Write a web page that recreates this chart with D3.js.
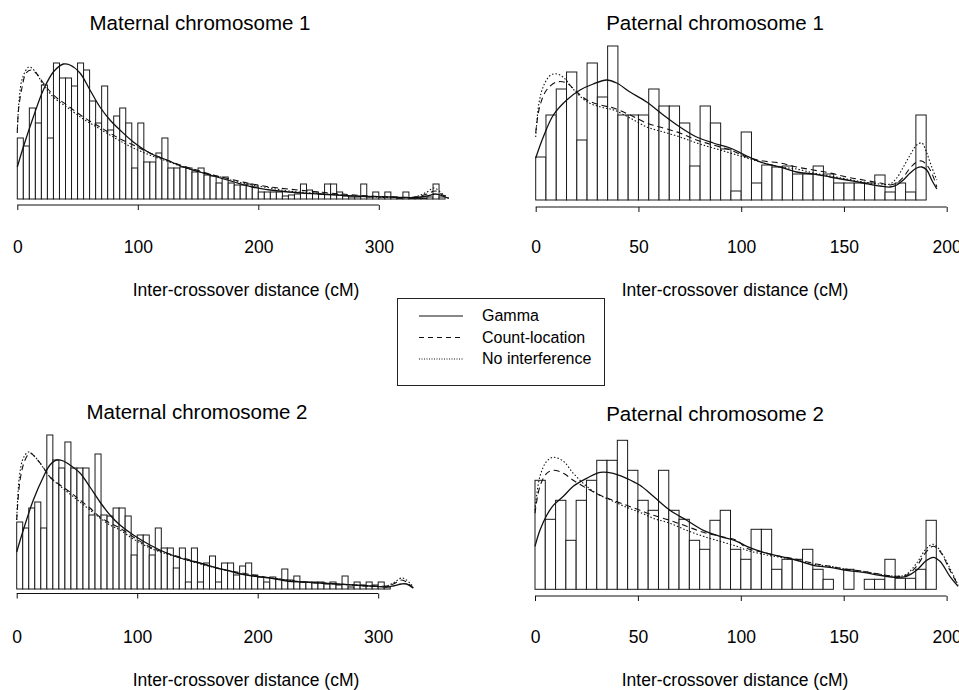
<!DOCTYPE html>
<html><head><meta charset="utf-8">
<script src="https://cdn.jsdelivr.net/npm/d3@7"></script>
<style>body{margin:0;background:#fff} svg{display:block}</style>
</head><body><svg id="c" width="959" height="690"></svg>
<script>
// ---------------- DATA ----------------
const binWidth = 5; // cM
const seriesNames = ["Gamma", "Count-location", "No interference"];

// histogram bar heights (frequency, arbitrary units), bins of 5 cM starting at 0
const mat1Bins = [61,53,91,76,114,61,136,121,121,113,136,129,98,76,113,69,83,91,76,31,76,37,37,46,61,31,31,32,31,27,31,24,23,16,
  22,16,14,14,15,12,7,7,7,7,3,4,5,15,9,7,5,15,15,7,3,2,2,15,2,7,2,7,2,1,7,1,1,1,2,15,2];
const pat1Bins = [43,85,111,128,60,137,103,154,85,85,85,111,94,94,77,34,94,77,51,9,68,17,35,33,34,26,26,34,26,17,17,17,17,25,8,17,8,85];
const mat2Bins = [67,61,81,87,61,154,129,121,147,121,121,121,74,135,74,73,81,81,73,34,54,54,34,61,41,41,21,41,7,41,7,26,33,7,
  26,26,14,23,26,14,12,7,12,10,20,9,13,7,7,7,7,5,7,4,13,2,7,4,7,4,7,2];
const pat2Bins = [109,70,89,49,89,109,129,129,149,119,89,79,119,79,70,49,40,69,79,40,30,60,60,20,30,30,40,20,10,0,20,0,10,10,30,11,11,20,69];

// fitted densities: [cM, frequency]
const mat1Gamma = [[0,32],[5,52],[13.3,82],[21.6,109],[29.9,127],[38.2,135],[43.7,134],[52,126],[60.3,109],[68.6,92],[76.9,79],[85.2,69],[96.3,57],[110,46],[124,39],[137.8,32],[151.6,27],[165.5,22],[180,17],[195,12],[210,9],[225,7],[250,5],[280,3],[310,2],[330,1.5],[340,3],[347,5],[353,3],[358,0.5]];
const mat1Count = [[0,67],[1,89],[4,112],[7.3,126],[11.4,129],[15.5,126],[21.6,116],[29.9,104],[41,94],[54.8,82],[68.6,72],[82.4,62],[96.3,54],[110,46],[124,39],[137.8,33],[151.6,28],[165.5,23],[180,19],[195,15],[210,12],[225,10],[250,7],[280,4],[310,2],[330,2],[340,5],[347,8],[353,4],[358,1]];
const mat1NoInt = [[0,66],[1.5,99],[4.3,121],[9.7,132],[15.2,127],[21.6,114],[29.9,102],[41,92],[54.8,80],[68.6,70],[82.4,60],[96.3,51],[110,44],[124,38],[137.8,32],[151.6,27],[165.5,23],[180,18],[195,14],[210,11],[225,8],[250,5.5],[280,3],[310,1.5],[330,2],[340,7],[346,11],[353,5],[358,1]];

const pat1Gamma = [[0,42],[3.7,63],[8.6,85],[15.1,100],[21.6,110],[28,116],[34.5,120],[39.4,117],[45.9,108],[54,98],[62.1,85],[70.2,73],[78.3,63],[86.4,57],[94.6,52],[102.7,44],[110.8,37],[118.9,33],[127,28],[135.1,26],[143.2,23],[151.3,20],[159.4,17],[167.6,14],[172.4,13],[175.7,15],[178.9,20],[182.2,27],[185.4,32],[187.9,33],[190.3,30],[192.7,20],[195.2,11]];
const pat1Count = [[0,67],[1.9,93],[5.3,110],[10.2,118],[15.1,117],[20,108],[24.9,100],[31.4,95],[37.8,92],[45.9,85],[54,77],[62.1,72],[70.2,67],[78.3,60],[86.4,55],[94.6,50],[102.7,43],[110.8,39],[118.9,37],[127,33],[135.1,30],[143.2,27],[151.3,23],[159.4,20],[167.6,17],[172.4,15],[175.7,17],[178.9,23],[182.2,32],[185.4,38],[187.9,39],[190.3,35],[192.7,27],[195.2,13]];
const pat1NoInt = [[0,63],[1.6,97],[4,115],[7.3,125],[10.5,126],[13.8,122],[18.6,110],[25.1,98],[31.6,93],[38,90],[45.9,82],[54,73],[62.1,68],[70.2,63],[78.3,57],[86.4,52],[94.6,47],[102.7,42],[110.8,37],[118.9,33],[127,31],[135.1,27],[143.2,24],[151.3,21],[159.4,18],[167.6,16],[172.4,16],[175.7,22],[178.9,33],[182.2,45],[185.4,55],[187.9,57],[190.3,47],[192.7,33],[195.2,20]];

const mat2Gamma = [[0,37],[5.5,59],[13.8,89],[22.1,112],[27.6,124],[33.2,129],[38.7,128],[44.2,124],[52.5,116],[60.8,102],[69.1,87],[77.4,74],[85.7,64],[96.8,54],[110.6,44],[124.4,36],[138.3,30],[152.1,26],[165.9,21],[177,18],[182.5,16],[196.3,13],[210.2,11],[224,8],[237.8,7],[251.6,6],[265.5,5],[279.3,4],[293.1,3],[306.9,2],[312.5,3],[319.4,5],[323.5,5],[329.1,1]];
const mat2Count = [[0,69],[2.8,109],[6.9,129],[11,136],[15.2,132],[20.7,124],[27.6,112],[35.9,104],[44.2,97],[52.5,89],[60.8,81],[69.1,72],[77.4,66],[85.7,61],[96.8,52],[110.6,42],[124.4,36],[138.3,31],[152.1,26],[165.9,21],[177,18],[182.5,17],[196.3,14],[210.2,11],[224,9],[237.8,7],[251.6,6],[265.5,5],[279.3,4],[293.1,3],[306.9,3],[312.5,5],[319.4,9],[323.5,7],[329.1,1]];
const mat2NoInt = [[0,69],[2.2,112],[5.5,131],[9.7,137],[13.8,134],[19.3,126],[27.6,112],[35.9,103],[44.2,95],[52.5,87],[60.8,79],[69.1,71],[77.4,64],[85.7,59],[96.8,50],[110.6,41],[124.4,35],[138.3,30],[152.1,25],[165.9,21],[177,18],[182.5,16],[196.3,13],[210.2,11],[224,9],[237.8,7],[251.6,6],[265.5,5],[279.3,4],[293.1,3],[306.9,3],[312.5,6],[319.4,11],[323.5,9],[329.1,2]];

const pat2Gamma = [[0,43],[2.4,59],[5.7,74],[8.9,84],[13.8,93],[18.6,103],[25.1,111],[31.6,117],[38,116],[44.5,111],[51,104],[57.5,93],[65.6,79],[73.7,69],[81.8,59],[89.9,53],[98,48],[102.9,43],[111,37],[119,33],[127.1,29],[135.2,24],[143.3,22],[151.4,19],[159.5,17],[167.6,14],[175.7,12],[180.5,13],[185.4,19],[190.3,29],[193.5,32],[196.8,28],[201.6,13],[205.6,3]];
const pat2Count = [[0,76],[2.4,103],[5.7,116],[8.9,119],[13.8,116],[18.6,109],[25.1,101],[31.6,94],[38,89],[44.5,84],[51,79],[57.5,74],[65.6,69],[73.7,63],[81.8,57],[89.9,53],[98,49],[102.9,41],[111,37],[119,33],[127.1,30],[135.2,26],[143.3,23],[151.4,20],[159.5,18],[167.6,15],[175.7,13],[180.5,14],[185.4,23],[190.3,38],[193.5,43],[196.8,38],[201.6,19],[205.6,4]];
const pat2NoInt = [[0,79],[2.4,113],[5.7,128],[8.9,132],[13.8,128],[18.6,116],[25.1,103],[31.6,94],[38,88],[44.5,82],[51,77],[57.5,71],[65.6,66],[73.7,59],[81.8,53],[89.9,48],[98,43],[102.9,39],[111,35],[119,32],[127.1,29],[135.2,25],[143.3,23],[151.4,20],[159.5,18],[167.6,15],[175.7,13],[180.5,15],[185.4,26],[190.3,41],[193.5,45],[196.8,39],[201.6,21],[205.6,4]];

const titles = ["Maternal chromosome 1", "Paternal chromosome 1", "Maternal chromosome 2", "Paternal chromosome 2"];
const ticks300 = [0, 100, 200, 300];
const ticks200 = [0, 50, 100, 150, 200];
const xLabel = "Inter-crossover distance (cM)";

// ---------------- LAYOUT ----------------
const panels = [
  {title: titles[0], bins: mat1Bins, curves: [mat1Gamma, mat1Count, mat1NoInt], ticks: ticks300,
   xr: [17.3, 378.8], base: 199, axisY: 205, titleX: 200, titleY: 30, labY: 253, xlabX: 246, xlabY: 296},
  {title: titles[1], bins: pat1Bins, curves: [pat1Gamma, pat1Count, pat1NoInt], ticks: ticks200,
   xr: [535.7, 946.7], base: 200, axisY: 207, titleX: 715, titleY: 30, labY: 253, xlabX: 735, xlabY: 296},
  {title: titles[2], bins: mat2Bins, curves: [mat2Gamma, mat2Count, mat2NoInt], ticks: ticks300,
   xr: [16.7, 378.2], base: 589, axisY: 593.5, titleX: 197, titleY: 419, labY: 643, xlabX: 246, xlabY: 686},
  {title: titles[3], bins: pat2Bins, curves: [pat2Gamma, pat2Count, pat2NoInt], ticks: ticks200,
   xr: [535, 946.6], base: 589.3, axisY: 596, titleX: 715, titleY: 421, labY: 643, xlabX: 735, xlabY: 686}
];
const styles = [
  {dash: null, w: 1.3},
  {dash: "6,4", w: 1.1},
  {dash: "1.5,2", w: 1.1}
];
const font = "'Liberation Sans', Arial, Helvetica, sans-serif";

const svg = d3.select("#c");
svg.append("rect").attr("width", 959).attr("height", 690).attr("fill", "#fff");

panels.forEach(p => {
  const dmax = p.ticks[p.ticks.length - 1];
  const x = d3.scaleLinear().domain([0, dmax]).range(p.xr);
  const y = d3.scaleLinear().domain([0, 160]).range([p.base, p.base - 160]);
  const g = svg.append("g");

  // bars
  g.selectAll("rect.bar").data(p.bins).join("rect")
    .attr("class", "bar")
    .attr("x", (d, i) => x(i * binWidth))
    .attr("width", (d, i) => x((i + 1) * binWidth) - x(i * binWidth))
    .attr("y", d => y(d))
    .attr("height", d => y(0) - y(d))
    .attr("fill", "#fff")
    .attr("stroke", "#1a1a1a")
    .attr("stroke-width", 1);

  // curves
  const line = d3.line().x(d => x(d[0])).y(d => y(d[1])).curve(d3.curveCatmullRom.alpha(0.5));
  p.curves.forEach((c, i) => {
    g.append("path").datum(c).attr("d", line)
      .attr("fill", "none").attr("stroke", "#111")
      .attr("stroke-width", styles[i].w)
      .attr("stroke-dasharray", styles[i].dash);
  });

  // axis
  const ax = g.append("g").attr("transform", `translate(0,${p.axisY})`)
    .call(d3.axisBottom(x).tickValues(p.ticks).tickSize(5).tickSizeOuter(0).tickFormat(d3.format("d")));
  ax.select(".domain").attr("stroke", "#111").attr("stroke-width", 1.2).attr("d", `M${p.xr[0]},0H${p.xr[1]}`);
  ax.selectAll(".tick line").attr("stroke", "#111");
  ax.selectAll(".tick text").attr("y", p.labY - p.axisY).attr("dy", 0)
    .attr("font-family", font).attr("font-size", 17.5).attr("fill", "#000");

  // title
  svg.append("text").attr("x", p.titleX).attr("y", p.titleY).attr("text-anchor", "middle")
    .attr("font-family", font).attr("font-size", 20.5).attr("fill", "#000").text(p.title);
  svg.append("text").attr("x", p.xlabX).attr("y", p.xlabY).attr("text-anchor", "middle")
    .attr("font-family", font).attr("font-size", 17.5).attr("fill", "#000").text(xLabel);
});

// legend
const lg = svg.append("g");
lg.append("rect").attr("x", 397.5).attr("y", 298.5).attr("width", 207).attr("height", 87)
  .attr("fill", "#fff").attr("stroke", "#222").attr("stroke-width", 1);
seriesNames.forEach((n, i) => {
  const yy = 316 + i * 21.5;
  lg.append("line").attr("x1", 419).attr("x2", 463).attr("y1", yy).attr("y2", yy)
    .attr("stroke", "#111").attr("stroke-width", 1).attr("stroke-dasharray", i === 0 ? null : (i === 1 ? "5,4" : "1,1.5"));
  lg.append("text").attr("x", 482).attr("y", yy + 5).attr("font-family", font).attr("font-size", 16)
    .attr("fill", "#000").text(n);
});
</script></body></html>
